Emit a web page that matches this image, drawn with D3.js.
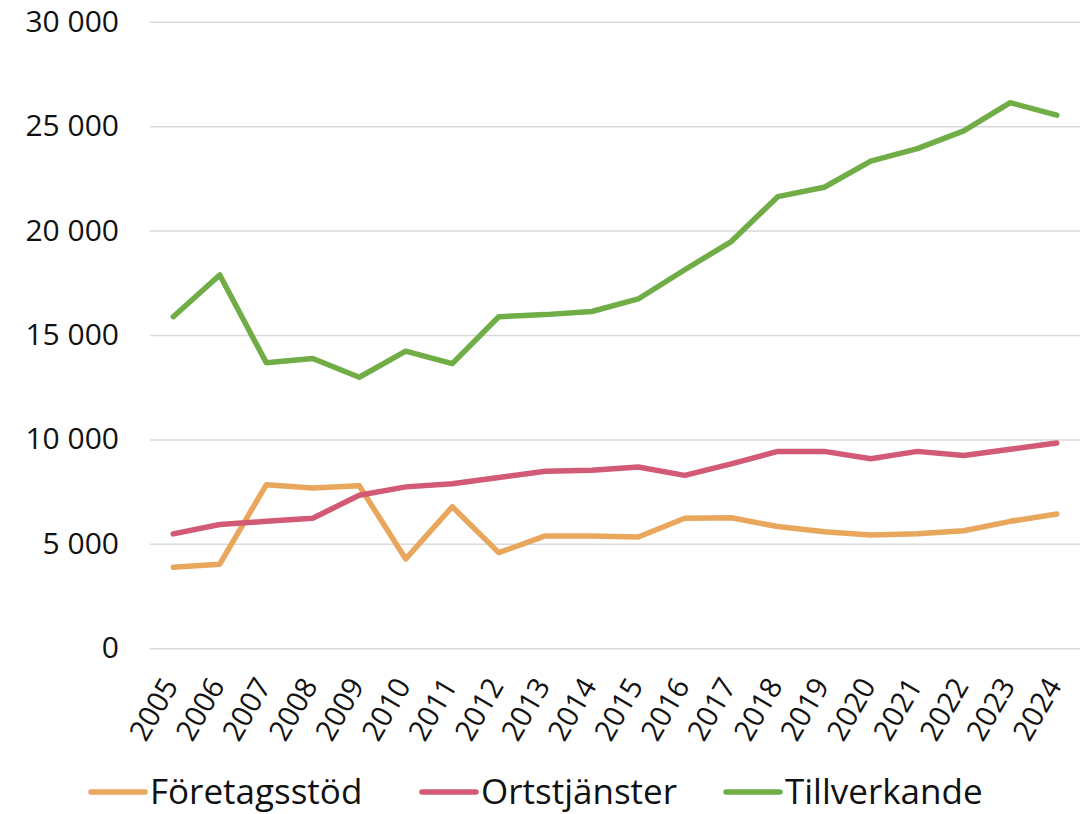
<!DOCTYPE html>
<html>
<head>
<meta charset="utf-8">
<script src="https://cdn.jsdelivr.net/npm/d3@7"></script>
<style>
  html, body { margin: 0; padding: 0; background: #fff; }
  svg { display: block; }
  text { font-family: "Open Sans", Lato, sans-serif; fill: #111; }
</style>
</head>
<body>
<svg id="chart" width="1092" height="814"></svg>
<script>
// Years on the category axis
const years = ["2005","2006","2007","2008","2009","2010","2011","2012","2013","2014",
               "2015","2016","2017","2018","2019","2020","2021","2022","2023","2024"];

// Series values per year
const foretagsstod = [3900, 4050, 7850, 7700, 7800, 4300, 6800, 4600, 5400, 5400,
                      5350, 6250, 6270, 5850, 5600, 5450, 5500, 5650, 6100, 6450];
const ortstjanster = [5500, 5950, 6100, 6250, 7350, 7750, 7900, 8200, 8500, 8550,
                      8700, 8300, 8850, 9450, 9450, 9100, 9450, 9250, 9550, 9850];
const tillverkande = [15900, 17900, 13700, 13900, 13000, 14250, 13650, 15900, 16000, 16150,
                      16750, 18150, 19500, 21650, 22100, 23350, 23950, 24800, 26150, 25550];

const seriesNames = ["Företagsstöd", "Ortstjänster", "Tillverkande"];
const seriesColors = ["#E8A75C", "#D35A75", "#70AD47"];
const yTicks = [0, 5000, 10000, 15000, 20000, 25000, 30000];

const series = [foretagsstod, ortstjanster, tillverkande].map((vals, i) => ({
  name: seriesNames[i], color: seriesColors[i], values: vals
}));

const svg = d3.select("#chart");
const plotLeft = 150, plotRight = 1080, plotTop = 22.3, plotBottom = 648.7;

const x = d3.scaleBand().domain(years).range([plotLeft, plotRight]);
const y = d3.scaleLinear().domain([0, 30000]).range([plotBottom, plotTop]);

const fmt = d3.formatLocale({ decimal: ",", thousands: "\u00a0", grouping: [3], currency: ["", " kr"] }).format(",d");

// Horizontal gridlines
svg.append("g").selectAll("line").data(yTicks).join("line")
  .attr("x1", plotLeft).attr("x2", plotRight)
  .attr("y1", d => y(d)).attr("y2", d => y(d))
  .attr("stroke", "#d9d9d9").attr("stroke-width", 1.5);

// Y axis labels
const yAxis = d3.axisLeft(y).tickValues(yTicks).tickFormat(fmt).tickSize(0).tickPadding(0);
const gy = svg.append("g").attr("transform", `translate(119,0)`).call(yAxis);
gy.select(".domain").remove();
gy.selectAll("text").style("font-size", "30px").attr("font-family", null).attr("fill", "#111").attr("dy", "0.3em");

// X axis labels, rotated
const xAxis = d3.axisBottom(x).tickSize(0).tickPadding(0);
const gx = svg.append("g").attr("transform", `translate(0,${plotBottom})`).call(xAxis);
gx.select(".domain").remove();
gx.selectAll(".tick text")
  .style("font-size", "29px").attr("font-family", null).attr("fill", "#111")
  .attr("text-anchor", "end")
  .attr("dy", null).attr("y", 0)
  .attr("transform", "translate(-1,33) rotate(-60)")
  .attr("dominant-baseline", "middle");

// Lines
const line = d3.line()
  .x((d, i) => x(years[i]) + x.bandwidth() / 2)
  .y(d => y(d));

svg.append("g").selectAll("path").data(series).join("path")
  .attr("d", d => line(d.values))
  .attr("fill", "none")
  .attr("stroke", d => d.color)
  .attr("stroke-width", 5.5)
  .attr("stroke-linecap", "round")
  .attr("stroke-linejoin", "round");

// Legend
const legendX = [91, 422, 726];
const lg = svg.append("g").selectAll("g").data(series).join("g")
  .attr("transform", (d, i) => `translate(${legendX[i]},792)`);
lg.append("line").attr("x1", 0).attr("x2", 54).attr("y1", 0).attr("y2", 0)
  .attr("stroke", d => d.color).attr("stroke-width", 5.5).attr("stroke-linecap", "round");
lg.append("text").attr("x", 59).attr("y", 0).attr("dy", "0.33em")
  .style("font-size", "35px").text(d => d.name);
</script>
</body>
</html>
